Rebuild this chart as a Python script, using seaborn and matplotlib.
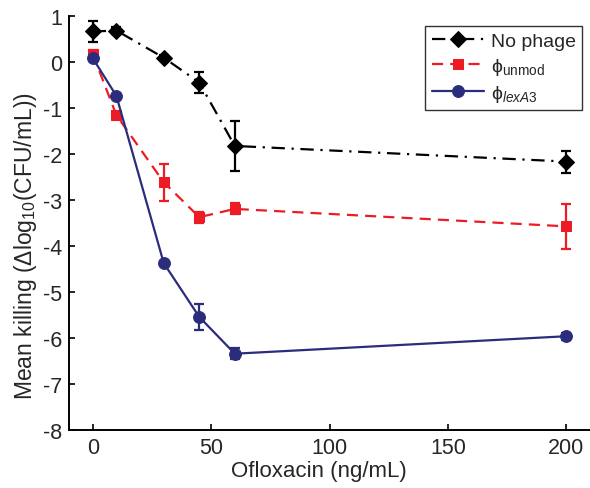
import numpy as np
import pandas as pd
import seaborn as sns
import matplotlib.pyplot as plt

# ofloxacin concentrations (ng/mL)
oflox = [0, 10, 30, 45, 60, 200]

no_phage = [0.67, 0.69, 0.10, -0.44, -1.82, -2.16]
no_phage_err = [0.22, 0.08, 0.05, 0.22, 0.54, 0.24]

unmod = [0.18, -1.15, -2.61, -3.37, -3.19, -3.57]
unmod_err = [0.08, 0.05, 0.40, 0.12, 0.12, 0.49]

lexa3 = [0.09, -0.73, -4.37, -5.54, -6.34, -5.96]
lexa3_err = [0.05, 0.05, 0.05, 0.29, 0.12, 0.08]

labels = ['No phage', r'ϕ$_{\mathrm{unmod}}$', r'ϕ$_{\mathit{lexA3}}$']

sns.set_style('ticks')
plt.rcParams['font.family'] = ['Liberation Sans', 'DejaVu Sans']
plt.rcParams['mathtext.fontset'] = 'custom'
plt.rcParams['mathtext.rm'] = 'Liberation Sans'
plt.rcParams['mathtext.it'] = 'Liberation Sans:italic'
plt.rcParams['mathtext.bf'] = 'Liberation Sans:bold'
plt.rcParams['axes.unicode_minus'] = False
plt.rcParams['xtick.direction'] = 'in'
plt.rcParams['ytick.direction'] = 'in'

fig = plt.figure(figsize=(5.9, 4.89), dpi=100)
ax = fig.add_axes([0.117, 0.1186, 0.883, 0.846])

series = [
    (no_phage, no_phage_err, 'black', (0, (6, 3, 1, 3)), 'D', 7.8),
    (unmod, unmod_err, '#ED1C24', (0, (5, 3.2)), 's', 7.5),
    (lexa3, lexa3_err, '#2B2C7C', '-', 'o', 8.5),
]

for (vals, errs, col, ls, mk, ms), lab in zip(series, labels):
    df = pd.DataFrame({'oflox': oflox, 'kill': vals})
    sns.lineplot(data=df, x='oflox', y='kill', color=col, linestyle=ls,
                 marker=mk, markersize=ms, markeredgecolor=col,
                 markerfacecolor=col, linewidth=1.6, label=lab, ax=ax)
    ax.errorbar(oflox, vals, yerr=errs, fmt='none', ecolor=col,
                elinewidth=1.6, capsize=3.3, capthick=1.6)

h, l = ax.get_legend_handles_labels()
leg = ax.legend(h, l, loc='upper right', bbox_to_anchor=(0.985, 0.977),
                fontsize=14, frameon=True, fancybox=False,
                edgecolor='black', handlelength=2.7, handletextpad=0.35,
                labelspacing=0.32, borderpad=0.32, borderaxespad=0)
leg.get_frame().set_linewidth(1.0)

ax.set_xlim(-10, 210)
ax.set_ylim(-8, 1)
ax.set_xticks([0, 50, 100, 150, 200])
ax.set_yticks(np.arange(-8, 2, 1))
ax.tick_params(labelsize=15.5, length=4, width=1.2, color='black', pad=5)
ax.set_xlabel('Ofloxacin (ng/mL)', fontsize=16)
ax.set_ylabel(r'Mean killing ($\Delta$log$_{10}$(CFU/mL))', fontsize=16.5)
ax.xaxis.set_label_coords(0.48, -0.072)
ax.yaxis.set_label_coords(-0.058, 0.448)

sns.despine(ax=ax)
for s in ['left', 'bottom']:
    ax.spines[s].set_linewidth(1.4)
    ax.spines[s].set_color('black')

fig.savefig('out.png', dpi=100)
